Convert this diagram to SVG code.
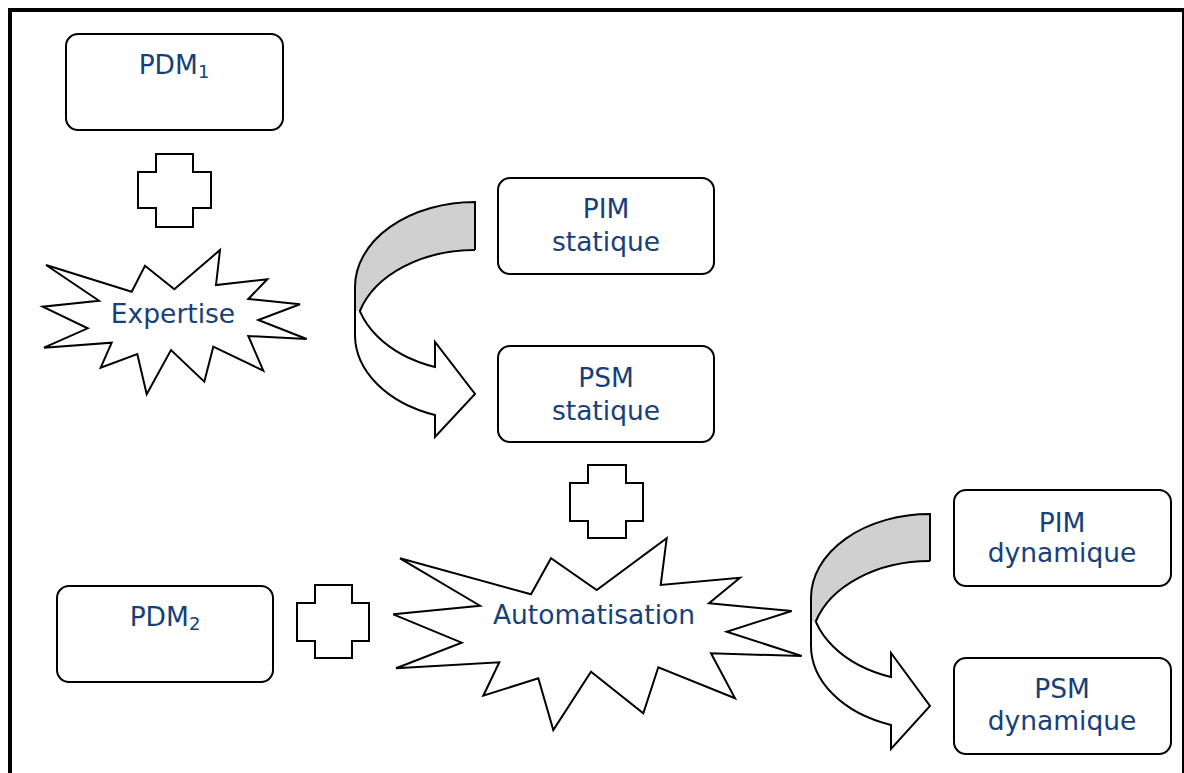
<svg xmlns="http://www.w3.org/2000/svg" width="1184" height="773" viewBox="0 0 1184 773">
<style>
.box{fill:#fff;stroke:#000;stroke-width:2}
.shape{fill:#fff;stroke:#000;stroke-width:2;stroke-linejoin:miter}
.backfill{fill:#d0d0d0;stroke:none}
.edge{fill:none;stroke:#000;stroke-width:2}
.t{font-family:"DejaVu Sans",Verdana,sans-serif;font-size:26.5px;fill:#17407a;text-anchor:middle}
.sub{font-size:18px}
</style>
<rect x="0" y="0" width="1184" height="773" fill="#fff"/>
<rect x="10" y="10" width="1174" height="800" fill="none" stroke="#000" stroke-width="4"/>

<g id="pdm1">
<rect class="box" x="66" y="34" width="217" height="96" rx="12"/>
<text class="t" x="174" y="74">PDM<tspan class="sub" dy="4">1</tspan></text>
</g>

<g id="plus1">
<path class="shape" d="M156,154 H193 V172 H211 V208 H193 V227 H156 V208 H138 V172 H156 Z"/>
</g>

<g id="expertise">
<polygon class="shape" points="46,265 131.7,291.7 145,265.7 174.3,289.3 220,250 216,285 267.3,279.3 248.3,299 300,304.3 258.3,320 306.7,339 248.3,336 263.3,370.7 213.3,346.7 204.3,381.7 171,350 146.7,394.3 137.3,354 100.7,367.7 111.7,342.7 44,347.7 87.7,328.3 42.7,306.7 99,300.7"/>
<text class="t" x="173" y="323">Expertise</text>
</g>

<g id="pim-statique">
<rect class="box" x="498" y="178" width="216" height="96" rx="12"/>
<text class="t" x="606" y="218">PIM</text>
<text class="t" x="606" y="251">statique</text>
</g>

<g id="psm-statique">
<rect class="box" x="498" y="346" width="216" height="96" rx="12"/>
<text class="t" x="606" y="387">PSM</text>
<text class="t" x="606" y="420">statique</text>
</g>

<g id="plus2">
<path class="shape" d="M588,465 H626 V483 H643 V521 H626 V538 H588 V521 H570 V483 H588 Z"/>
</g>

<g id="automatisation">
<polygon class="shape" points="400,558.3 531,594.3 551,558.3 596.7,590 666.7,538.3 660.7,585 740,577.7 709,603.3 791.7,611 726.7,631.7 801.7,656 711,653.3 735,698.3 658.3,667.3 643.3,713.3 591,671.7 553.3,730 538.3,678.3 483.3,695.7 499.3,662.3 396,668.3 461.7,642.7 393.3,614.3 480,605.7"/>
<text class="t" x="594" y="624">Automatisation</text>
</g>

<g id="pdm2">
<rect class="box" x="57" y="586" width="216" height="96" rx="12"/>
<text class="t" x="165" y="626">PDM<tspan class="sub" dy="4">2</tspan></text>
</g>

<g id="plus3">
<path class="shape" d="M315,585 H352 V603 H369 V641 H352 V658 H315 V641 H297 V603 H315 Z"/>
</g>

<g id="pim-dynamique">
<rect class="box" x="954" y="490" width="217" height="96" rx="12"/>
<text class="t" x="1062" y="532">PIM</text>
<text class="t" x="1062" y="562">dynamique</text>
</g>

<g id="psm-dynamique">
<rect class="box" x="954" y="658" width="217" height="96" rx="12"/>
<text class="t" x="1062" y="698">PSM</text>
<text class="t" x="1062" y="730">dynamique</text>
</g>

<g id="connectors">
<g id="curved-arrow-1">
<path class="shape" d="M355,287 A120,85 0 0 0 435,367 L435,342 L475,394 L435,437 L435,415 A120,85 0 0 1 355,335 Z"/>
<path class="backfill" d="M475,202 A120,85 0 0 0 355,287 L355,311 L359.9,311 A120,85 0 0 1 475,250 Z"/>
<path class="edge" d="M475,250 L475,202 A120,85 0 0 0 355,287 L355,312"/>
<path class="edge" d="M359.9,311 A120,85 0 0 1 475,250"/>
</g>
<g id="curved-arrow-2">
<path class="shape" d="M811,598 A119,84 0 0 0 891,677 L891,653 L930,706 L891,749 L891,725 A119,84 0 0 1 811,645 Z"/>
<path class="backfill" d="M930,514 A119,84 0 0 0 811,598 L811,621.5 L815.75,621.5 A119,84 0 0 1 930,561 Z"/>
<path class="edge" d="M930,561 L930,514 A119,84 0 0 0 811,598 L811,622"/>
<path class="edge" d="M815.75,621.5 A119,84 0 0 1 930,561"/>
</g>
</g>
</svg>
